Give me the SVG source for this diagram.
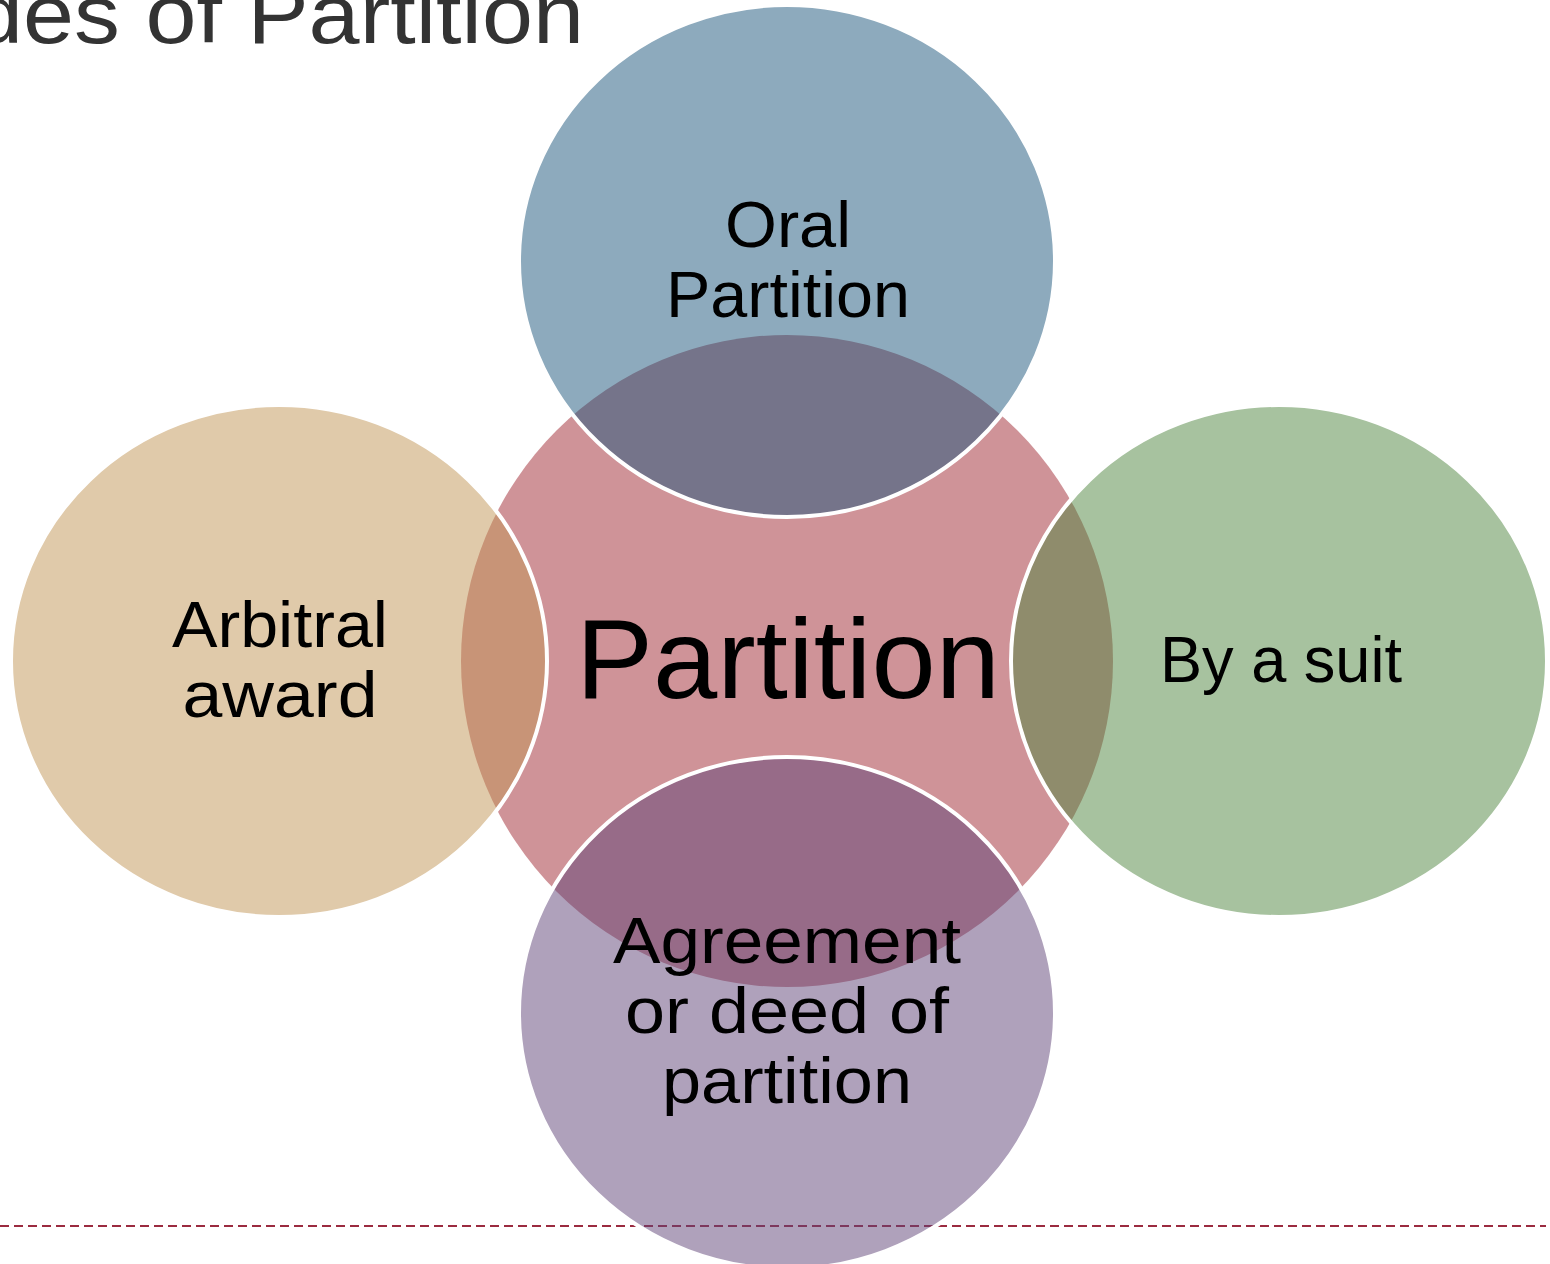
<svg xmlns="http://www.w3.org/2000/svg" width="1550" height="1264" viewBox="0 0 1550 1264">
  <style>
    .lbl { font-family: "Liberation Sans", Arial, sans-serif; fill: #000; text-anchor: middle; }
    .small { font-size: 64px; }
    .big { font-size: 113px; }
    .title { font-family: "Liberation Sans", Arial, sans-serif; font-size: 84px; fill: #333333; }
    .petal { fill-opacity: 0.5; stroke: #ffffff; stroke-width: 4; }
  </style>

  <rect x="0" y="0" width="1550" height="1264" fill="#ffffff"/>

  <!-- heading, running off the left and top edges -->
  <text class="title" x="-28" y="43" textLength="612" lengthAdjust="spacingAndGlyphs">des of Partition</text>

  <!-- footer rule -->
  <line x1="0" y1="1226" x2="1546" y2="1226" stroke="#9b2b40" stroke-width="2" stroke-dasharray="9 5"/>

  <!-- hub -->
  <g id="hub">
    <circle cx="787" cy="661" r="326" fill="#cf9398"/>
  </g>

  <!-- satellites, translucent so overlaps with the hub darken -->
  <g id="oral">
    <ellipse class="petal" cx="787" cy="261" rx="268" ry="256" fill="#1b557b"/>
  </g>
  <g id="arbitral">
    <ellipse class="petal" cx="279" cy="661" rx="268" ry="256" fill="#c19555"/>
  </g>
  <g id="suit">
    <ellipse class="petal" cx="1279" cy="661" rx="268" ry="256" fill="#4f853f"/>
  </g>
  <g id="agreement">
    <ellipse class="petal" cx="787" cy="1013" rx="268" ry="256" fill="#5f4377"/>
  </g>

  <!-- labels -->
  <g id="labels">
    <text class="lbl big" x="788" y="698" textLength="424" lengthAdjust="spacingAndGlyphs">Partition</text>
    <text class="lbl small" x="788" y="247" textLength="126" lengthAdjust="spacingAndGlyphs">Oral</text>
    <text class="lbl small" x="788" y="317" textLength="244" lengthAdjust="spacingAndGlyphs">Partition</text>
    <text class="lbl small" x="280" y="647" textLength="216" lengthAdjust="spacingAndGlyphs">Arbitral</text>
    <text class="lbl small" x="280" y="717" textLength="195" lengthAdjust="spacingAndGlyphs">award</text>
    <text class="lbl small" x="1281" y="682" textLength="242" lengthAdjust="spacingAndGlyphs">By a suit</text>
    <text class="lbl small" x="787" y="963" textLength="348" lengthAdjust="spacingAndGlyphs">Agreement</text>
    <text class="lbl small" x="787" y="1033" textLength="324" lengthAdjust="spacingAndGlyphs">or deed of</text>
    <text class="lbl small" x="787" y="1103" textLength="250" lengthAdjust="spacingAndGlyphs">partition</text>
  </g>
</svg>
